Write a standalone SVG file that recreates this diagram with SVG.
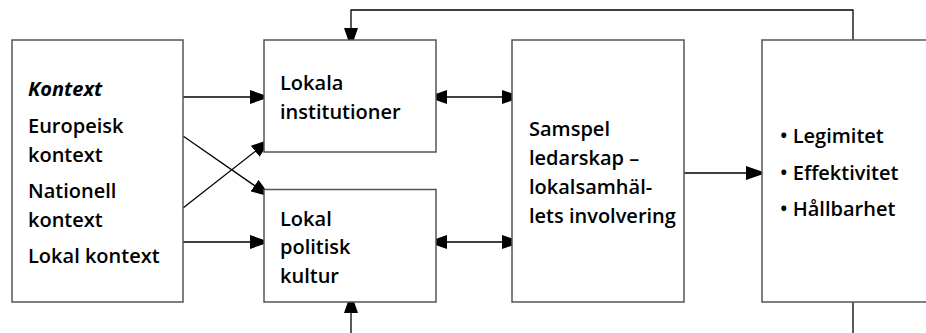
<svg xmlns="http://www.w3.org/2000/svg" width="926" height="333" viewBox="0 0 926 333">
<defs>
<marker id="ah" viewBox="0 0 20 14" refX="20" refY="7" markerWidth="20" markerHeight="14" markerUnits="userSpaceOnUse" orient="auto-start-reverse">
<path d="M0,0 L20,7 L0,14 Z" fill="#000"/>
</marker>
</defs>
<style>
.box{fill:#fff;stroke:#555;stroke-width:1.5}
.ln{fill:none;stroke:#000;stroke-width:1.3}
text{font-family:"Open Sans","DejaVu Sans",sans-serif;font-weight:600;font-size:20px;fill:#000}
.it{font-style:italic;font-weight:700}
</style>
<rect width="926" height="333" fill="#fff"/>
<g id="connectors">
<polyline class="ln" points="853,40 853,10 351,10 351,48" marker-end="url(#ah)"/>
<line class="ln" x1="853" y1="302" x2="853" y2="333"/>
<line class="ln" x1="351" y1="333" x2="351" y2="293" marker-end="url(#ah)"/>
<line class="ln" x1="183" y1="97" x2="270" y2="97" marker-end="url(#ah)"/>
<line class="ln" x1="183" y1="242" x2="270" y2="242" marker-end="url(#ah)"/>
<line class="ln" x1="183" y1="136" x2="271" y2="197" marker-end="url(#ah)"/>
<line class="ln" x1="183" y1="208" x2="271" y2="139" marker-end="url(#ah)"/>
<line class="ln" x1="427" y1="97" x2="522" y2="97" marker-start="url(#ah)" marker-end="url(#ah)"/>
<line class="ln" x1="427" y1="242" x2="522" y2="242" marker-start="url(#ah)" marker-end="url(#ah)"/>
<line class="ln" x1="684" y1="173" x2="766" y2="173" marker-end="url(#ah)"/>
</g>
<g id="kontext">
<rect class="box" x="12" y="40" width="171" height="262"/>
<text class="it" x="28" y="96">Kontext</text>
<text x="28" y="132.5">Europeisk</text>
<text x="28" y="161.5">kontext</text>
<text x="28" y="198">Nationell</text>
<text x="28" y="227">kontext</text>
<text x="28" y="263">Lokal kontext</text>
</g>
<g id="lokala-institutioner">
<rect class="box" x="264" y="40" width="172" height="112"/>
<text x="280" y="89.5">Lokala</text>
<text x="280" y="118.5">institutioner</text>
</g>
<g id="lokal-politisk-kultur">
<rect class="box" x="264" y="189.5" width="172" height="112.5"/>
<text x="280" y="225.5">Lokal</text>
<text x="280" y="254">politisk</text>
<text x="280" y="282.5">kultur</text>
</g>
<g id="samspel">
<rect class="box" x="512" y="40" width="172" height="262"/>
<text x="529" y="136">Samspel</text>
<text x="529" y="165">ledarskap –</text>
<text x="529" y="194">lokalsamhäl-</text>
<text x="529" y="222.5">lets involvering</text>
</g>
<g id="resultat">
<rect class="box" x="762" y="40" width="180" height="262"/>
<text x="780" y="142.5">• Legimitet</text>
<text x="780" y="180">• Effektivitet</text>
<text x="780" y="216">• Hållbarhet</text>
</g>
</svg>
